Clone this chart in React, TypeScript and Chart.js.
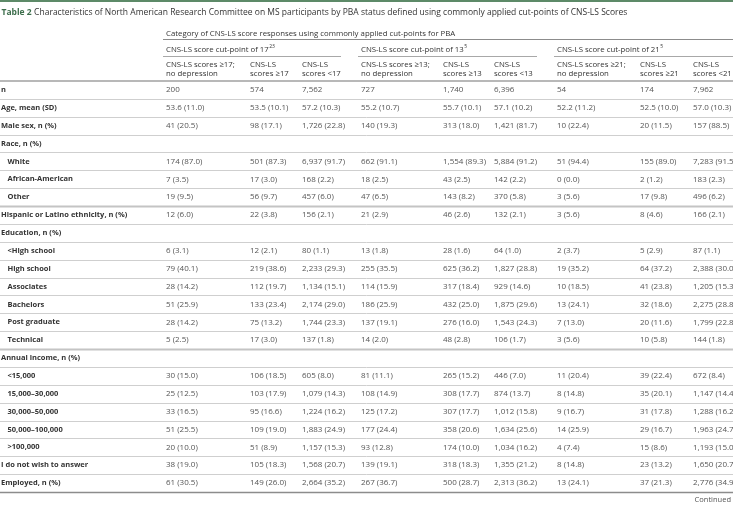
import React, { useEffect, useRef } from "react";
import { Chart, registerables } from "chart.js";
Chart.register(...registerables);

const titleBold = "Table 2";
const titleRest = "Characteristics of North American Research Committee on MS participants by PBA status defined using commonly applied cut-points of CNS-LS Scores";
const topHeader = "Category of CNS-LS score responses using commonly applied cut-points for PBA";
const groupHeaders = ["CNS-LS score cut-point of 17", "CNS-LS score cut-point of 13", "CNS-LS score cut-point of 21"];
const groupRefs = ["23", "5", "5"];
const colHeaders = [
  ["CNS-LS scores \u226517;", "no depression"], ["CNS-LS", "scores \u226517"], ["CNS-LS", "scores <17"],
  ["CNS-LS scores \u226513;", "no depression"], ["CNS-LS", "scores \u226513"], ["CNS-LS", "scores <13"],
  ["CNS-LS scores \u226521;", "no depression"], ["CNS-LS", "scores \u226521"], ["CNS-LS", "scores <21"],
];

const rowLabels = [
  "n", "Age, mean (SD)", "Male sex, n (%)", "Race, n (%)", "White", "African-American", "Other",
  "Hispanic or Latino ethnicity, n (%)", "Education, n (%)", "<High school", "High school", "Associates",
  "Bachelors", "Post graduate", "Technical", "Annual income, n (%)", "<15,000", "15,000\u201330,000",
  "30,000\u201350,000", "50,000\u2013100,000", ">100,000", "I do not wish to answer", "Employed, n (%)",
];
const subRows = ["White", "African-American", "Other", "<High school", "High school", "Associates", "Bachelors",
  "Post graduate", "Technical", "<15,000", "15,000\u201330,000", "30,000\u201350,000", "50,000\u2013100,000", ">100,000"];
const groupEndRows = ["Other", "Technical"];

const c17NoDep = ["200","53.6 (11.0)","41 (20.5)","","174 (87.0)","7 (3.5)","19 (9.5)","12 (6.0)","","6 (3.1)","79 (40.1)","28 (14.2)","51 (25.9)","28 (14.2)","5 (2.5)","","30 (15.0)","25 (12.5)","33 (16.5)","51 (25.5)","20 (10.0)","38 (19.0)","61 (30.5)"];
const c17Ge = ["574","53.5 (10.1)","98 (17.1)","","501 (87.3)","17 (3.0)","56 (9.7)","22 (3.8)","","12 (2.1)","219 (38.6)","112 (19.7)","133 (23.4)","75 (13.2)","17 (3.0)","","106 (18.5)","103 (17.9)","95 (16.6)","109 (19.0)","51 (8.9)","105 (18.3)","149 (26.0)"];
const c17Lt = ["7,562","57.2 (10.3)","1,726 (22.8)","","6,937 (91.7)","168 (2.2)","457 (6.0)","156 (2.1)","","80 (1.1)","2,233 (29.3)","1,134 (15.1)","2,174 (29.0)","1,744 (23.3)","137 (1.8)","","605 (8.0)","1,079 (14.3)","1,224 (16.2)","1,883 (24.9)","1,157 (15.3)","1,568 (20.7)","2,664 (35.2)"];
const c13NoDep = ["727","55.2 (10.7)","140 (19.3)","","662 (91.1)","18 (2.5)","47 (6.5)","21 (2.9)","","13 (1.8)","255 (35.5)","114 (15.9)","186 (25.9)","137 (19.1)","14 (2.0)","","81 (11.1)","108 (14.9)","125 (17.2)","177 (24.4)","93 (12.8)","139 (19.1)","267 (36.7)"];
const c13Ge = ["1,740","55.7 (10.1)","313 (18.0)","","1,554 (89.3)","43 (2.5)","143 (8.2)","46 (2.6)","","28 (1.6)","625 (36.2)","317 (18.4)","432 (25.0)","276 (16.0)","48 (2.8)","","265 (15.2)","308 (17.7)","307 (17.7)","358 (20.6)","174 (10.0)","318 (18.3)","500 (28.7)"];
const c13Lt = ["6,396","57.1 (10.2)","1,421 (81.7)","","5,884 (91.2)","142 (2.2)","370 (5.8)","132 (2.1)","","64 (1.0)","1,827 (28.8)","929 (14.6)","1,875 (29.6)","1,543 (24.3)","106 (1.7)","","446 (7.0)","874 (13.7)","1,012 (15.8)","1,634 (25.6)","1,034 (16.2)","1,355 (21.2)","2,313 (36.2)"];
const c21NoDep = ["54","52.2 (11.2)","10 (22.4)","","51 (94.4)","0 (0.0)","3 (5.6)","3 (5.6)","","2 (3.7)","19 (35.2)","10 (18.5)","13 (24.1)","7 (13.0)","3 (5.6)","","11 (20.4)","8 (14.8)","9 (16.7)","14 (25.9)","4 (7.4)","8 (14.8)","13 (24.1)"];
const c21Ge = ["174","52.5 (10.0)","20 (11.5)","","155 (89.0)","2 (1.2)","17 (9.8)","8 (4.6)","","5 (2.9)","64 (37.2)","41 (23.8)","32 (18.6)","20 (11.6)","10 (5.8)","","39 (22.4)","35 (20.1)","31 (17.8)","29 (16.7)","15 (8.6)","23 (13.2)","37 (21.3)"];
const c21Lt = ["7,962","57.0 (10.3)","157 (88.5)","","7,283 (91.5)","183 (2.3)","496 (6.2)","166 (2.1)","","87 (1.1)","2,388 (30.0)","1,205 (15.3)","2,275 (28.8)","1,799 (22.8)","144 (1.8)","","672 (8.4)","1,147 (14.4)","1,288 (16.2)","1,963 (24.7)","1,193 (15.0)","1,650 (20.7)","2,776 (34.9)"];

const columns = [c17NoDep, c17Ge, c17Lt, c13NoDep, c13Ge, c13Lt, c21NoDep, c21Ge, c21Lt];

// layout (not data)
const W = 733, H = 505;
const COL_X = [166, 250, 302, 361, 443, 494, 557, 640, 693];
const FONT = "'Open Sans', 'Noto Sans', sans-serif";

const tablePlugin = {
  id: "tableText",
  afterDraw(chart: any) {
    const ctx = chart.ctx as CanvasRenderingContext2D;
    const y = chart.scales.y;
    const area = chart.chartArea;
    const rowH = (area.bottom - area.top) / rowLabels.length;
    ctx.save();
    ctx.textBaseline = "middle";
    ctx.textAlign = "left";

    // top bar
    ctx.fillStyle = "#5d8a68";
    ctx.fillRect(0, 0, W, 2);

    // title
    ctx.font = `bold 8.5px ${FONT}`;
    ctx.fillStyle = "#3d6e4c";
    ctx.fillText(titleBold, 1.5, 13);
    const tw = ctx.measureText(titleBold).width;
    ctx.font = `8.5px ${FONT}`;
    ctx.fillStyle = "#333";
    ctx.fillText(titleRest, 1.5 + tw + 2.5, 13);

    const top = area.top;
    // header
    ctx.font = `7.8px ${FONT}`;
    ctx.fillStyle = "#333";
    ctx.fillText(topHeader, COL_X[0], top - 47);
    ctx.strokeStyle = "#8c8c8c";
    ctx.lineWidth = 1;
    ctx.beginPath();
    ctx.moveTo(COL_X[0] - 3, top - 41.5);
    ctx.lineTo(W, top - 41.5);
    ctx.stroke();

    for (let g = 0; g < 3; g++) {
      const x0 = COL_X[g * 3];
      ctx.font = `7.8px ${FONT}`;
      ctx.fillText(groupHeaders[g], x0, top - 31);
      const gw = ctx.measureText(groupHeaders[g]).width;
      ctx.font = `5px ${FONT}`;
      ctx.fillText(groupRefs[g], x0 + gw + 0.5, top - 34);
      const x1 = g < 2 ? COL_X[g * 3 + 3] - 20 : W;
      ctx.strokeStyle = "#a8a8a8";
      ctx.beginPath();
      ctx.moveTo(x0 - 3, top - 24.5);
      ctx.lineTo(x1, top - 24.5);
      ctx.stroke();
    }
    ctx.font = `7.8px ${FONT}`;
    colHeaders.forEach((lines, i) => {
      ctx.fillText(lines[0], COL_X[i], top - 16);
      ctx.fillText(lines[1], COL_X[i], top - 7);
    });

    // header bottom rule
    ctx.strokeStyle = "#a0a0a0";
    ctx.lineWidth = 1.5;
    ctx.beginPath();
    ctx.moveTo(0, top);
    ctx.lineTo(W, top);
    ctx.stroke();

    // rows
    rowLabels.forEach((label, i) => {
      const cy = y.getPixelForValue(i);
      const isSub = subRows.includes(label);
      ctx.font = `bold 7.5px ${FONT}`;
      ctx.fillStyle = "#333";
      ctx.fillText(label, isSub ? 7.5 : 1, cy);
      const by = cy + rowH / 2;
      const last = i === rowLabels.length - 1;
      if (last) {
        ctx.strokeStyle = "#8c8c8c";
        ctx.lineWidth = 1.5;
      } else if (groupEndRows.includes(label)) {
        ctx.strokeStyle = "#c4c4c4";
        ctx.lineWidth = 2;
      } else {
        ctx.strokeStyle = "#cfcfcf";
        ctx.lineWidth = 1;
      }
      ctx.beginPath();
      ctx.moveTo(0, Math.round(by) + 0.5);
      ctx.lineTo(W, Math.round(by) + 0.5);
      ctx.stroke();
    });

    // cells
    ctx.font = `8px ${FONT}`;
    ctx.fillStyle = "#555";
    chart.data.datasets.forEach((ds: any, di: number) => {
      const meta = chart.getDatasetMeta(di);
      meta.data.forEach((pt: any, pi: number) => {
        const txt = ds.cellText[pi];
        if (txt) ctx.fillText(txt, pt.x, pt.y);
      });
    });

    ctx.font = `7.5px ${FONT}`;
    ctx.textAlign = "right";
    ctx.fillStyle = "#555";
    ctx.fillText("Continued", W - 2, area.bottom + 8);
    ctx.restore();
  },
};

export default function App() {
  const ref = useRef<HTMLCanvasElement>(null);
  useEffect(() => {
    if (!ref.current) return;
    const chart = new Chart(ref.current, {
      type: "scatter",
      data: {
        datasets: columns.map((col, ci) => ({
          label: colHeaders[ci].join(" "),
          data: rowLabels.map((r) => ({ x: COL_X[ci], y: r })) as any,
          cellText: col,
          pointRadius: 0,
          pointHoverRadius: 0,
        })) as any,
      },
      options: {
        animation: false,
        responsive: false,
        devicePixelRatio: 1,
        events: [],
        layout: { padding: { top: 81, bottom: 13, left: 0, right: 0 } },
        plugins: { legend: { display: false }, tooltip: { enabled: false } },
        scales: {
          x: { type: "linear", min: 0, max: W, display: false },
          y: { type: "category", labels: rowLabels, offset: true, display: false },
        },
      },
      plugins: [tablePlugin],
    });
    return () => chart.destroy();
  }, []);
  return (
    <div style={{ position: "absolute", left: 0, top: 0, width: W, height: H, background: "#fff" }}>
      <canvas ref={ref} width={W} height={H} style={{ width: W, height: H }} />
    </div>
  );
}
